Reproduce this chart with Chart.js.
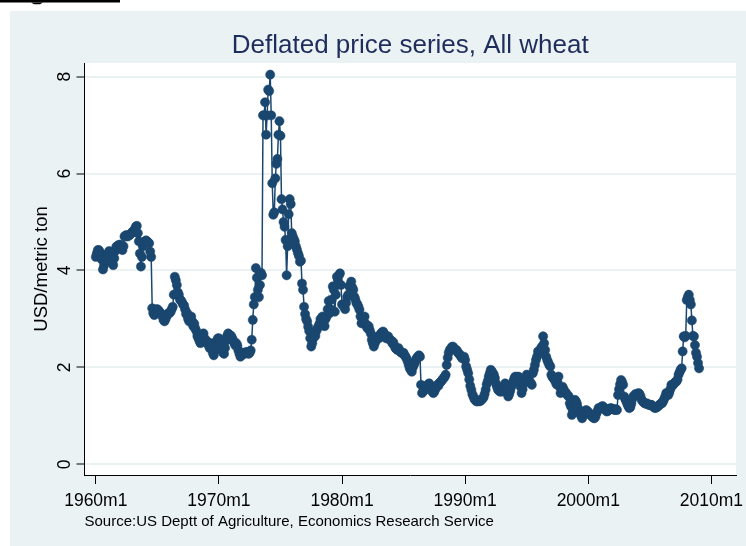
<!DOCTYPE html>
<html lang="en">
<head>
<meta charset="UTF-8" />
<title>Deflated price series, All wheat</title>
<script src="https://cdn.jsdelivr.net/npm/chart.js@4.4.1/dist/chart.umd.min.js"></script>
<style>
  html, body { margin: 0; padding: 0; background: #fff; overflow: hidden; }
  #grafico { display: block; }
</style>
</head>
<body>
<canvas id="grafico" width="746" height="546"></canvas>
<script>
// monthly deflated wheat price (USD/metric ton), one row per year, starting 1960m1
const price1960s = [
  4.28, 4.35, 4.42, 4.42, 4.38, 4.30, 4.22, 4.02, 4.10, 4.18, 4.25, 4.30,
  4.35, 4.40, 4.38, 4.22, 4.15, 4.11, 4.25, 4.40, 4.49, 4.50, 4.52, 4.53,
  4.53, 4.48, 4.42, 4.50, 4.70, 4.72, 4.73, 4.70, 4.72, 4.73, 4.75, 4.78,
  4.80, 4.82, 4.85, 4.90, 4.92, 4.77, 4.60, 4.35, 4.08, 4.28, 4.50, 4.58,
  4.60, 4.62, 4.60, 4.58, 4.56, 4.39, 4.28, 3.22, 3.12, 3.08, 3.15, 3.20,
  3.20, 3.18, 3.15, 3.12, 3.10, 3.05, 2.98, 2.95, 3.00, 3.05, 3.10, 3.12,
  3.12, 3.15, 3.20, 3.25, 3.50, 3.87, 3.80, 3.70, 3.55, 3.50, 3.40, 3.38,
  3.35, 3.30, 3.28, 3.20, 3.10, 3.12, 3.00, 2.95, 3.00, 3.05, 2.95, 2.85,
  2.90, 2.80, 2.75, 2.65, 2.60, 2.55, 2.50, 2.60, 2.65, 2.70, 2.60, 2.55,
  2.55, 2.50, 2.45, 2.40, 2.50, 2.45, 2.30, 2.25, 2.35, 2.45, 2.55, 2.60
];
const price1970s = [
  2.60, 2.50, 2.40, 2.35, 2.30, 2.28, 2.40, 2.55, 2.65, 2.70, 2.68, 2.60,
  2.65, 2.60, 2.55, 2.50, 2.45, 2.50, 2.45, 2.35, 2.28, 2.22, 2.25, 2.30,
  2.30, 2.28, 2.30, 2.32, 2.30, 2.28, 2.30, 2.35, 2.57, 2.98, 3.30, 3.45,
  4.05, 3.85, 3.60, 3.45, 3.70, 3.95, 3.90, 7.20, 7.20, 7.47, 6.80, 7.20,
  7.73, 7.70, 8.04, 7.20, 5.80, 5.15, 5.20, 5.90, 6.20, 6.30, 6.80, 7.08,
  6.78, 5.47, 5.26, 5.00, 4.90, 4.63, 3.90, 4.50, 5.16, 5.47, 5.37, 4.77,
  4.70, 4.65, 4.60, 4.50, 4.43, 4.36, 4.30, 4.18, 4.20, 3.73, 3.60, 3.25,
  3.10, 3.00, 2.95, 2.84, 2.75, 2.60, 2.43, 2.50, 2.60, 2.70, 2.65, 2.75,
  2.80, 2.85, 2.90, 3.00, 2.95, 3.05, 2.90, 2.85, 3.00, 3.05, 3.20, 3.37,
  3.12, 3.20, 3.40, 3.67, 3.60, 3.15, 3.50, 3.87, 3.80, 3.90, 3.94, 3.70
];
const price1980s = [
  3.30, 3.29, 3.25, 3.20, 3.33, 3.45, 3.50, 3.67, 3.70, 3.77, 3.65, 3.60,
  3.46, 3.40, 3.33, 3.30, 3.25, 3.19, 3.05, 2.91, 2.95, 3.00, 3.05, 2.90,
  2.84, 2.80, 2.85, 2.77, 2.70, 2.57, 2.50, 2.43, 2.50, 2.55, 2.60, 2.64,
  2.60, 2.64, 2.70, 2.72, 2.74, 2.70, 2.65, 2.60, 2.62, 2.64, 2.58, 2.57,
  2.55, 2.50, 2.52, 2.45, 2.40, 2.38, 2.36, 2.40, 2.35, 2.32, 2.30, 2.29,
  2.30, 2.25, 2.22, 2.18, 2.12, 2.05, 1.98, 1.95, 1.91, 2.00, 2.05, 2.10,
  2.16, 2.20, 2.22, 2.25, 2.22, 1.64, 1.47, 1.50, 1.55, 1.54, 1.60, 1.62,
  1.65, 1.67, 1.60, 1.55, 1.50, 1.47, 1.50, 1.55, 1.60, 1.64, 1.62, 1.68,
  1.70, 1.72, 1.75, 1.78, 1.80, 1.85, 2.05, 2.20, 2.30, 2.36, 2.38, 2.42,
  2.43, 2.40, 2.38, 2.36, 2.35, 2.30, 2.28, 2.26, 2.22, 2.19, 2.20, 2.22
];
const price1990s = [
  2.15, 2.02, 1.95, 1.88, 1.75, 1.62, 1.54, 1.45, 1.40, 1.35, 1.32, 1.30,
  1.30, 1.32, 1.30, 1.31, 1.33, 1.36, 1.38, 1.45, 1.54, 1.65, 1.72, 1.81,
  1.88, 1.95, 1.92, 1.88, 1.85, 1.78, 1.67, 1.60, 1.54, 1.52, 1.50, 1.55,
  1.50, 1.55, 1.62, 1.67, 1.60, 1.54, 1.40, 1.45, 1.52, 1.60, 1.65, 1.72,
  1.78, 1.81, 1.80, 1.75, 1.81, 1.75, 1.60, 1.47, 1.55, 1.67, 1.72, 1.78,
  1.85, 1.80, 1.75, 1.70, 1.68, 1.64, 1.88, 1.95, 2.05, 2.15, 2.22, 2.33,
  2.30, 2.35, 2.40, 2.43, 2.64, 2.50, 2.36, 2.22, 2.15, 2.10, 2.05, 2.02,
  1.85, 1.80, 1.78, 1.75, 1.71, 1.65, 1.70, 1.81, 1.60, 1.47, 1.55, 1.60,
  1.55, 1.50, 1.48, 1.45, 1.42, 1.40, 1.26, 1.20, 1.02, 1.10, 1.25, 1.33,
  1.30, 1.25, 1.16, 1.10, 1.05, 1.00, 0.95, 1.00, 1.05, 1.10, 1.12, 1.10
];
const price2000s = [
  1.08, 1.05, 1.03, 1.00, 0.98, 0.96, 0.95, 0.98, 1.05, 1.10, 1.16, 1.15,
  1.17, 1.19, 1.20, 1.18, 1.15, 1.12, 1.09, 1.10, 1.12, 1.15, 1.16, 1.15,
  1.14, 1.13, 1.12, 1.14, 1.12, 1.43, 1.55, 1.65, 1.74, 1.70, 1.64, 1.40,
  1.35, 1.30, 1.25, 1.20, 1.16, 1.18, 1.25, 1.35, 1.40, 1.42, 1.45, 1.43,
  1.45, 1.47, 1.45, 1.40, 1.33, 1.30, 1.28, 1.26, 1.25, 1.26, 1.24, 1.23,
  1.22, 1.23, 1.22, 1.20, 1.18, 1.16, 1.17, 1.18, 1.20, 1.22, 1.24, 1.26,
  1.26, 1.30, 1.35, 1.40, 1.47, 1.45, 1.43, 1.48, 1.55, 1.64, 1.62, 1.65,
  1.68, 1.70, 1.71, 1.75, 1.85, 1.90, 1.95, 1.98, 2.33, 2.64, 2.62, 2.65,
  3.39, 3.45, 3.50, 3.39, 3.30, 2.97, 2.65, 2.64, 2.46, 2.30, 2.22, 2.09,
  1.98
];

// axis ticks: x is months counted from 1960m1
const xTickMonths = [0, 120, 240, 360, 480, 600];
const xTickLabels = ["1960m1", "1970m1", "1980m1", "1990m1", "2000m1", "2010m1"];
const yTickValues = [0, 2, 4, 6, 8];

const preco = [].concat(price1960s, price1970s, price1980s, price1990s, price2000s);
const pontos = preco.map((v, i) => ({ x: i, y: v }));

const azul = "#1a476f";
const fundoClaro = "#eaf2f3";

Chart.defaults.font.family = "'Liberation Sans', Arial, sans-serif";
Chart.defaults.color = "#000";

// outer Stata-like background + white plot region
const fundo = {
  id: "fundo",
  beforeDraw(chart) {
    const { ctx, chartArea: a } = chart;
    ctx.save();
    ctx.fillStyle = "#fff";
    ctx.fillRect(0, 0, chart.width, chart.height);
    ctx.fillStyle = fundoClaro;
    ctx.fillRect(10, 11, chart.width - 10, chart.height - 11);
    ctx.fillStyle = "#fff";
    ctx.fillRect(a.left, a.top, a.right - a.left, a.bottom - a.top);
    // cut-off underline of the page heading above the figure
    ctx.fillStyle = "#000";
    ctx.fillRect(0, 0, 120, 2.5);
    ctx.beginPath();
    ctx.moveTo(31, 2.5); ctx.lineTo(43, 2.5); ctx.lineTo(40, 4.2); ctx.lineTo(34, 4.2);
    ctx.closePath();
    ctx.fill();
    ctx.restore();
  }
};

new Chart(document.getElementById("grafico"), {
  type: "line",
  data: {
    datasets: [{
      data: pontos,
      borderColor: azul,
      borderWidth: 1.5,
      backgroundColor: azul,
      pointRadius: 4.6,
      pointBackgroundColor: azul,
      pointBorderColor: azul,
      pointBorderWidth: 0.5,
      tension: 0
    }]
  },
  options: {
    responsive: false,
    animation: false,
    devicePixelRatio: 1,
    layout: { padding: { left: 10, right: 10, top: 0, bottom: 0 } },
    plugins: {
      legend: { display: false },
      tooltip: { enabled: false },
      title: {
        display: true,
        text: "Deflated price series, All wheat",
        fullSize: false,
        color: "#1f2d5c",
        font: { size: 26, weight: "normal" },
        padding: { top: 30, bottom: 1.8 }
      },
      subtitle: {
        display: true,
        text: "Source:US Deptt of Agriculture, Economics Research Service",
        position: "bottom",
        align: "start",
        fullSize: false,
        color: "#000",
        font: { size: 15, weight: "normal" },
        padding: { top: 1.6, bottom: 15 }
      }
    },
    scales: {
      x: {
        type: "linear",
        min: -11,
        max: 624,
        afterBuildTicks: s => { s.ticks = xTickMonths.map(v => ({ value: v })); },
        afterFit: s => { s.height = 36.4; s.paddingLeft = 0; s.paddingRight = 0; },
        ticks: {
          autoSkip: false,
          maxRotation: 0,
          padding: 6.5,
          font: { size: 17.5 },
          callback: (v, i) => xTickLabels[i]
        },
        grid: { drawOnChartArea: false, tickLength: 9, tickColor: "#000", tickWidth: 1 },
        border: { color: "#000", width: 1 }
      },
      y: {
        min: -0.22,
        max: 8.28,
        afterBuildTicks: s => { s.ticks = yTickValues.map(v => ({ value: v })); },
        afterFit: s => { s.width = 74.5; s.paddingTop = 0; s.paddingBottom = 0; },
        ticks: {
          minRotation: 90,
          maxRotation: 90,
          crossAlign: "center",
          padding: 6.8,
          font: { size: 17.5 }
        },
        grid: { color: fundoClaro, lineWidth: 2, tickLength: 8, tickColor: "#000", tickWidth: 1 },
        border: { color: "#000", width: 1 },
        title: {
          display: true,
          text: "USD/metric ton",
          font: { size: 18.5 },
          padding: { top: 21, bottom: 0 }
        }
      }
    }
  },
  plugins: [fundo]
});
</script>
</body>
</html>
